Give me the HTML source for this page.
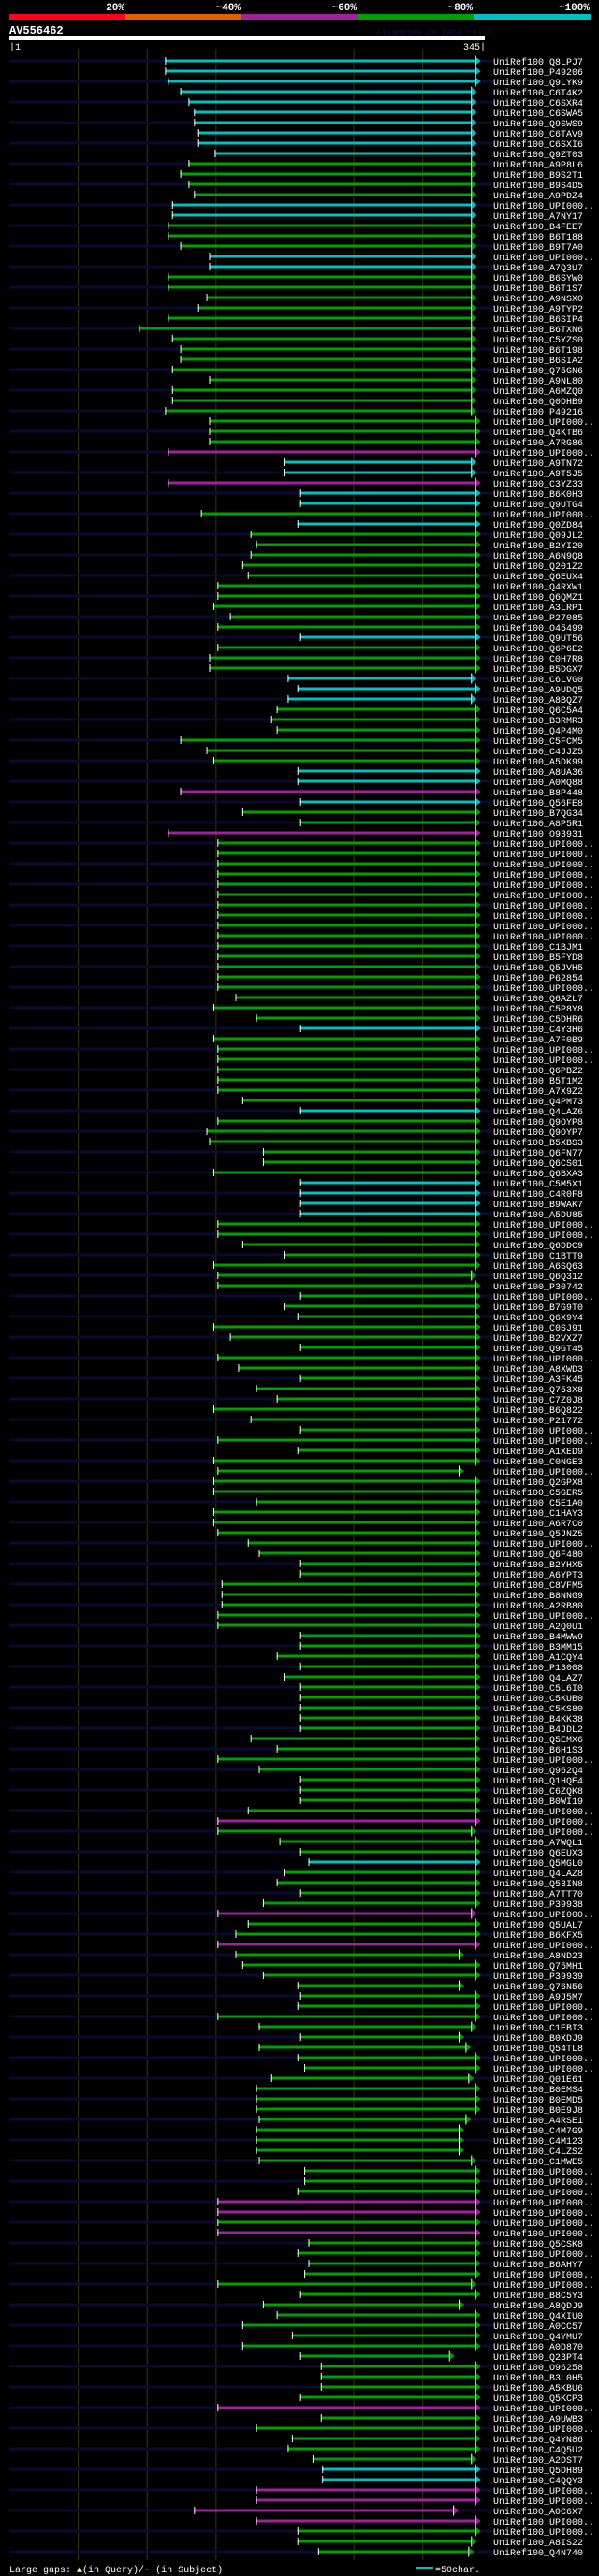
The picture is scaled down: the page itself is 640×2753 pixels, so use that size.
<!DOCTYPE html>
<html><head><meta charset="utf-8"><style>
html,body{margin:0;padding:0;background:#000;}
svg{display:block;}
text{font-family:"Liberation Mono","DejaVu Sans Mono",monospace;}
</style></head><body>
<svg id="chart" xmlns="http://www.w3.org/2000/svg" width="640" height="2753" viewBox="0 0 640 2753">
<rect x="0" y="0" width="640" height="2753" fill="#000"/>
<g>
<rect x="10" y="15" width="124" height="6" fill="#ff0020"/>
<rect x="134" y="15" width="124" height="6" fill="#e06000"/>
<rect x="258" y="15" width="124" height="6" fill="#a020a0"/>
<rect x="382" y="15" width="124" height="6" fill="#00a000"/>
<rect x="506" y="15" width="125" height="6" fill="#00c0c0"/>
<g font-size="11" font-weight="bold" fill="#fff" text-anchor="end">
<text x="133" y="11">20%</text>
<text x="257" y="11">~40%</text>
<text x="381" y="11">~60%</text>
<text x="505" y="11">~80%</text>
<text x="630" y="11">~100%</text>
</g></g>
<text x="10" y="36" font-size="12" font-weight="bold" fill="#fff">AV556462</text>
<text x="402" y="37" font-size="9" fill="#101050">AlignView.pm Beta rel.7</text>
<rect x="10" y="39" width="508" height="4" fill="#fff"/>
<text x="10" y="53" font-size="10" fill="#fff">|1</text>
<text x="519" y="53" font-size="10" fill="#fff" text-anchor="end">345|</text>
<g id="grid"></g>
<g id="rows"></g>
<g>
<text x="10" y="2749" font-size="10" fill="#fff">Large gaps: <tspan fill="#ffff60">▲</tspan>(in Query)/<tspan fill="#00c0c0">-</tspan> (in Subject)</text>
<rect x="445" y="2743" width="18" height="3" fill="#00c0c0"/>
<rect x="444" y="2740" width="1" height="9" fill="#fff"/>
<text x="465" y="2749" font-size="10" fill="#fff">=50char.</text>
</g>
</svg>
<script>
const U = "UPI000..";
const names = ["Q8LPJ7","P49206","Q9LYK9","C6T4K2","C6SXR4","C6SWA5","Q9SWS9","C6TAV9","C6SXI6","Q9ZT03","A9P8L6","B9S2T1","B9S4D5","A9PDZ4",U,"A7NY17","B4FEE7","B6T188","B9T7A0",U,"A7Q3U7","B6SYW0","B6T1S7","A9NSX0","A9TYP2","B6SIP4","B6TXN6","C5YZS0","B6T198","B6SIA2","Q75GN6","A9NL80","A6MZQ0","Q0DHB9","P49216",U,"Q4KTB6","A7RG86",U,"A9TN72","A9T5J5","C3YZ33","B6K0H3","Q9UTG4",U,"Q0ZD84","Q09JL2","B2YI20","A6N9Q8",
"Q201Z2","Q6EUX4","Q4RXW1","Q6QMZ1","A3LRP1","P27085","O45499","Q9UT56","Q6P6E2","C0H7R8","B5DGX7","C6LVG0","A9UDQ5","A8BQZ7","Q6C5A4","B3RMR3","Q4P4M0","C5FCM5","C4JJZ5","A5DK99","A8UA36","A0MQ88","B8P448","Q56FE8","B7QG34","A8P5R1","O93931",U,U,U,U,U,U,U,U,U,U,
"C1BJM1","B5FYD8","Q5JVH5","P62854",U,"Q6AZL7","C5P8Y8","C5DHR6","C4Y3H6","A7F0B9",U,U,"Q6PBZ2","B5T1M2","A7X9Z2","Q4PM73","Q4LAZ6","Q9OYP8","Q9OYP7","B5XBS3","Q6FN77","Q6CS01","Q6BXA3","C5M5X1","C4R0F8","B9WAK7","A5DU85",U,U,"Q6DDC9","C1BTT9","A6SQ63","Q6Q312","P30742",U,"B7G9T0","Q6X9Y4",
"C0SJ91","B2VXZ7","Q9GT45",U,"A8XWD3","A3FK45","Q753X8","C7Z0J8","B6Q822","P21772",U,U,"A1XED9","C0NGE3",U,"Q2GPX8","C5GER5","C5E1A0","C1HAY3","A6R7C0","Q5JNZ5",U,"Q6F480","B2YHX5","A6YPT3","C8VFM5","B8NNG9","A2RB80",U,"A2Q0U1","B4MWW9","B3MM15","A1CQY4","P13008","Q4LAZ7","C5L6I0","C5KUB0",
"C5KS80","B4KK38","B4JDL2","Q5EMX6","B6H1S3",U,"Q962Q4","Q1HQE4","C6ZQK8","B0WI19",U,U,U,"A7WQL1","Q6EUX3","Q5MGL0","Q4LAZ8","Q53IN8","A7TT70","P39938",U,"Q5UAL7","B6KFX5",U,"A8ND23","Q75MH1","P39939","Q76N56","A9J5M7",U,U,"C1EBI3","B0XDJ9","Q54TL8",U,U,"Q01E61",
"B0EMS4","B0EMD5","B0E9J8","A4RSE1","C4M7G9","C4M123","C4LZS2","C1MWE5",U,U,U,U,U,U,U,"Q5CSK8",U,"B6AHY7",U,U,"B8C5Y3","A8QDJ9","Q4XIU0","A0CC57","Q4YMU7","A0D870","Q23PT4","O96258","B3L0H5","A5KBU6","Q5KCP3",U,"A9UWB3",U,"Q4YN86","C4Q5U2","A2DST7",
"Q5DH89","C4QQY3",U,U,"A0C6X7",U,U,"A8IS22","Q4N740"];

const qStart = [113,113,115,124,130,134,134,137,137,149,130,124,130,134,118,118,115,115,124,145,145,115,115,143,137,115,94,118,124,124,118,145,118,118,113,145,145,145,115,199,199,115,211,211,139,209,175,179,175,
169,173,151,151,148,160,151,211,151,145,145,202,209,202,194,190,194,124,143,148,209,209,124,211,169,211,115,151,151,151,151,151,151,151,151,151,151,
151,151,151,151,151,164,148,179,211,148,151,151,151,151,151,169,211,151,143,145,184,184,148,211,211,211,211,151,151,169,199,148,151,151,211,199,209,
148,160,211,151,166,211,179,194,148,175,211,151,209,148,151,148,148,179,148,148,151,173,181,211,211,154,154,154,151,151,211,211,194,211,199,211,211,
211,211,211,175,194,151,181,211,211,211,173,151,151,196,211,217,199,194,211,184,151,173,164,151,164,169,184,209,211,209,151,181,211,181,209,214,190,
179,179,179,181,179,179,179,181,214,214,209,151,151,151,151,217,209,217,214,151,211,184,194,169,205,169,211,226,226,226,211,151,226,179,205,202,220,
227,227,179,179,134,179,209,209,224];

const qEnd = [338,338,338,335,335,335,335,335,335,335,335,335,335,335,335,335,335,335,335,335,335,335,335,335,335,335,335,335,335,335,335,335,335,335,335,338,338,338,338,335,335,338,338,338,338,338,338,338,338,
338,338,338,338,338,338,338,338,338,338,338,335,338,335,338,338,338,338,338,338,338,338,338,338,338,338,338,338,338,338,338,338,338,338,338,338,338,
338,338,338,338,338,338,338,338,338,338,338,338,338,338,338,338,338,338,338,338,338,338,338,338,338,338,338,338,338,338,338,338,335,338,338,338,338,
338,338,338,338,338,338,338,338,338,338,338,338,338,338,326,338,338,338,338,338,338,338,338,338,338,338,338,338,338,338,338,338,338,338,338,338,338,
338,338,338,338,338,338,338,338,338,338,338,338,335,338,338,338,338,338,338,338,335,338,338,338,326,338,338,326,338,338,338,335,326,331,338,338,333,
338,338,338,331,326,326,326,335,338,338,338,338,338,338,338,338,338,338,338,335,338,326,338,338,338,338,319,338,338,338,338,338,338,338,338,338,335,
338,338,338,338,322,338,338,335,333];

const cyanRows = [0,1,2,3,4,5,6,7,8,9,14,15,19,20,39,40,42,43,45,56,60,61,62,69,70,72,94,102,109,110,111,112,175,234,235];
const purpleRows = [38,41,71,75,171,180,183,208,209,211,228,236,237,238,239];
const gridTicks = [50,100,150,200,250,300];

const NS = "http://www.w3.org/2000/svg";
const X0 = 10, X1 = 518, QLEN = 345;
function xs(q){ return X0 + q * (X1 - X0) / QLEN; }
function rowY(i){ return 65 + i * 11; }
function colorOf(i){
  if (cyanRows.indexOf(i) >= 0) return "#00c0c0";
  if (purpleRows.indexOf(i) >= 0) return "#a020a0";
  return "#00a000";
}
function mk(tag, attrs, parent){
  const e = document.createElementNS(NS, tag);
  for (const k in attrs) e.setAttribute(k, attrs[k]);
  parent.appendChild(e);
  return e;
}
const grid = document.getElementById("grid");
gridTicks.forEach(function(t){
  const l = mk("line", {x1: xs(t), x2: xs(t), y1: 52, y2: 2736, stroke: "#38380c", "stroke-width": 1}, grid);
  
  
});
const rows = document.getElementById("rows");
names.forEach(function(nm, i){
  const y = rowY(i);
  const g = mk("g", {}, rows);
  
  
  if (i % 2 === 0) {
    const bg = mk("rect", {x: 10, y: y - 1.5, width: 516, height: 3, fill: "#0a0a32"}, g);
    
    
  }
  const sx = xs(qStart[i]), ex = xs(qEnd[i]);
  const col = colorOf(i);
  const bar = mk("rect", {x: sx, y: y - 1.5, width: ex - sx, height: 3, fill: col}, g);
  
  
  const st = mk("rect", {x: sx, y: y - 4, width: 1, height: 8, fill: "#fff"}, g);
  
  
  const el = mk("rect", {x: ex, y: y - 5.5, width: 1, height: 11, fill: "#fff"}, g);
  
  
  const ar = mk("polygon", {points: (ex + 1) + "," + (y - 4) + " " + (ex + 6) + "," + y + " " + (ex + 1) + "," + (y + 4), fill: col}, g);
  
  
  const tx = mk("text", {x: 527, y: y + 4, "font-size": 10, fill: "#fff"}, g);
  tx.textContent = "UniRef100_" + nm;
  
  
});
</script>
</body></html>
